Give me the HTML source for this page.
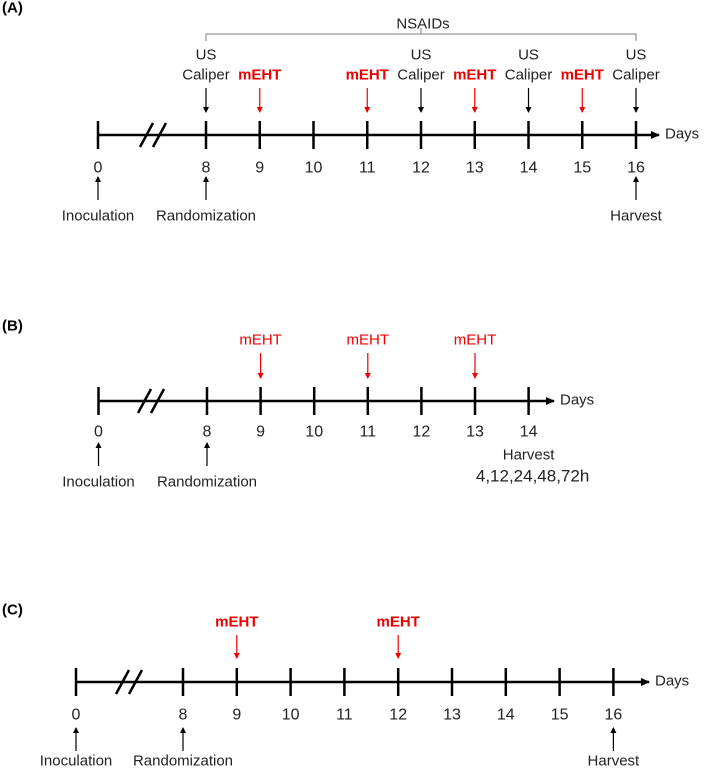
<!DOCTYPE html>
<html><head><meta charset="utf-8"><style>
html,body{margin:0;padding:0;background:#fff;}
svg{display:block;font-family:"Liberation Sans",sans-serif;}
</style></head><body>
<svg id="fig" width="709" height="769" viewBox="0 0 709 769">
<defs>
<marker id="ahk" markerWidth="6" markerHeight="6" refX="5" refY="3" orient="auto" markerUnits="userSpaceOnUse"><path d="M0,0 L6,3 L0,6 z" fill="#000"/></marker>
<marker id="ahr" markerWidth="6" markerHeight="6" refX="5" refY="3" orient="auto" markerUnits="userSpaceOnUse"><path d="M0,0 L6,3 L0,6 z" fill="#e00"/></marker>
<marker id="ahaxis" markerWidth="9" markerHeight="8" refX="8" refY="4" orient="auto" markerUnits="userSpaceOnUse"><path d="M0,0 L9,4 L0,8 z" fill="#000"/></marker>
</defs>
</svg>
<script>
// Panel A data
const daysA = [0,8,9,10,11,12,13,14,15,16];
const usDaysA = [8,12,14,16];
const mehtDaysA = [9,11,13,15];
const bottomA = [[0,'Inoculation'],[8,'Randomization'],[16,'Harvest']];
// Panel B data
const daysB = [0,8,9,10,11,12,13,14];
const mehtDaysB = [9,11,13];
const bottomB = [[0,'Inoculation'],[8,'Randomization']];
// Panel C data
const daysC = [0,8,9,10,11,12,13,14,15,16];
const mehtDaysC = [9,12];
const bottomC = [[0,'Inoculation'],[8,'Randomization'],[16,'Harvest']];

const NS='http://www.w3.org/2000/svg';
const svg=document.getElementById('fig');
function mk(tag,attrs,parent){const e=document.createElementNS(NS,tag);for(const k in attrs)e.setAttribute(k,attrs[k]);(parent||svg).appendChild(e);return e;}
function txt(x,y,s,size,fill,weight,parent,anchor){const t=mk('text',{x:x,y:y,'font-size':size,fill:fill||'#222','font-weight':weight||'normal','text-anchor':anchor||'middle','dominant-baseline':'central'},parent);t.textContent=s;return t;}

function panel(o){
  const g=mk('g',{});
  
  
  // axis scale: day 0 at x0, days 8..end linear
  const sx=d=> d===0?o.x0:o.x8+(d-8)*o.step;
  const t=txt(2,o.labelY,o.label,15,'#000','bold',g,'start');
  
  
  const ax=mk('line',{x1:o.x0,y1:o.axisY,x2:o.axEnd,y2:o.axisY,stroke:'#000','stroke-width':2.5,'marker-end':'url(#ahaxis)'},g);
  
  
  const dl=txt(o.axEnd+6,o.axisY-1,'Days',15,'#222','normal',g,'start');
  
  
  // break slashes
  [0,1].forEach(i=>{const bx=o.brk+i*13;const s=mk('line',{x1:bx,y1:o.axisY+12,x2:bx+13,y2:o.axisY-12,stroke:'#000','stroke-width':2.5},g);
    
    });
  o.days.forEach(d=>{
    const x=sx(d);
    const tk=mk('line',{x1:x,y1:o.axisY-14,x2:x,y2:o.axisY+14,stroke:'#000','stroke-width':2.5},g);
    
    
    const tl=txt(x,o.numY,String(d),16,'#222','normal',g);
    
    
  });
  o.bottom.forEach(([d,s])=>{
    const x=sx(d);
    const a=mk('line',{x1:x,y1:o.upY2,x2:x,y2:o.upY1,stroke:'#000','stroke-width':1.2,'marker-end':'url(#ahk)'},g);
    
    
    const l=txt(x,o.botY,s,15,'#222','normal',g);
    
    
  });
  (o.us||[]).forEach(d=>{
    const x=sx(d);
    const a=mk('line',{x1:x,y1:o.dnY1,x2:x,y2:o.dnY2,stroke:'#000','stroke-width':1.2,'marker-end':'url(#ahk)'},g);
    
    
    const l1=txt(x,o.usY,'US',15,'#222','normal',g);
    
    
    const l2=txt(x,o.topY,'Caliper',15,'#222','normal',g);
    
    
  });
  o.meht.forEach(d=>{
    const x=sx(d);
    const a=mk('line',{x1:x,y1:o.dnY1,x2:x,y2:o.dnY2,stroke:'#e00','stroke-width':1.2,'marker-end':'url(#ahr)'},g);
    
    
    const l=txt(x,o.topY,'mEHT',15,'#e00',o.bold?'bold':'normal',g);
    
    
  });
  return {g:g,sx:sx};
}

const A=panel({name:'panel-a',label:'(A)',labelY:8,x0:98,x8:206,step:53.75,axisY:135,axEnd:659,brk:140,days:daysA,numY:168,upY1:177,upY2:200,botY:216,bottom:bottomA,us:usDaysA,meht:mehtDaysA,dnY1:88,dnY2:112,usY:55,topY:75,bold:true});
// NSAIDs bracket
{const x1=A.sx(8),x2=A.sx(16),xm=A.sx(12);
 const b=mk('path',{d:`M${x1},41 L${x1},34 L${x2},34 L${x2},41 M${xm},34 L${xm},28`,fill:'none',stroke:'#999','stroke-width':1.3},A.g);
 
 
 const l=txt(xm+2,24,'NSAIDs',15,'#222','normal',A.g);
 
 }

const B=panel({name:'panel-b',label:'(B)',labelY:326,x0:98.5,x8:207,step:53.6,axisY:401,axEnd:554,brk:138,days:daysB,numY:432,upY1:443,upY2:466,botY:482,bottom:bottomB,meht:mehtDaysB,dnY1:353,dnY2:378,topY:340,bold:false});
{const x=B.sx(14);
 const h=txt(x,455,'Harvest',15,'#222','normal',B.g);
 
 
 const t=txt(x+4,476,'4,12,24,48,72h',17,'#222','normal',B.g);
 
 }

panel({name:'panel-c',label:'(C)',labelY:610,x0:76,x8:183,step:53.8,axisY:682,axEnd:649,brk:116,days:daysC,numY:715,upY1:728,upY2:751,botY:761,bottom:bottomC,meht:mehtDaysC,dnY1:635,dnY2:658,topY:622,bold:true});
</script>
</body></html>
